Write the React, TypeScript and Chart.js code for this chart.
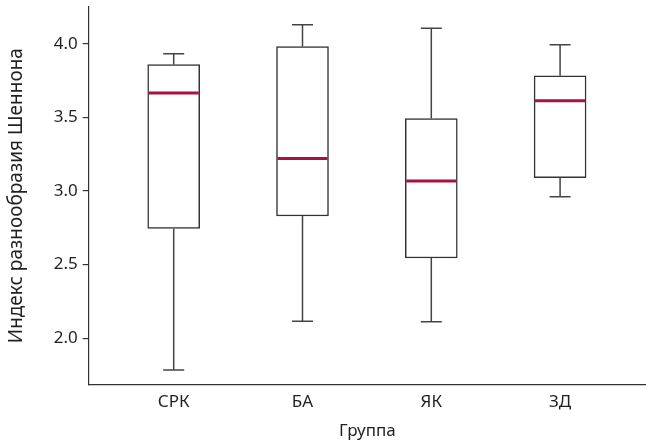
import React, { useEffect, useRef } from "react";
import { Chart, registerables } from "chart.js";

Chart.register(...registerables);

const groups = ["СРК", "БА", "ЯК", "ЗД"];
const whiskerLow = [1.785, 2.115, 2.113, 2.96];
const boxLow = [2.745, 2.83, 2.545, 3.09];
const medians = [3.665, 3.22, 3.068, 3.612];
const boxHigh = [3.858, 3.98, 3.492, 3.782];
const whiskerHigh = [3.932, 4.128, 4.105, 3.993];
const yTicks = [2.0, 2.5, 3.0, 3.5, 4.0];

const FONT = "'Noto Sans', sans-serif";
const TEXT = "#231f20";

const boxPlotPlugin = {
  id: "boxWhiskers",
  afterDatasetsDraw(chart: any) {
    const { ctx, scales } = chart;
    const xs = scales.x;
    const ys = scales.y;
    ctx.save();
    groups.forEach((_, i) => {
      const x = xs.getPixelForValue(i);
      const cap = 10.5;
      ctx.strokeStyle = "#444";
      ctx.lineWidth = 1.5;
      ctx.beginPath();
      ctx.moveTo(x, ys.getPixelForValue(boxHigh[i]));
      ctx.lineTo(x, ys.getPixelForValue(whiskerHigh[i]));
      ctx.moveTo(x - cap, ys.getPixelForValue(whiskerHigh[i]));
      ctx.lineTo(x + cap, ys.getPixelForValue(whiskerHigh[i]));
      ctx.moveTo(x, ys.getPixelForValue(boxLow[i]));
      ctx.lineTo(x, ys.getPixelForValue(whiskerLow[i]));
      ctx.moveTo(x - cap, ys.getPixelForValue(whiskerLow[i]));
      ctx.lineTo(x + cap, ys.getPixelForValue(whiskerLow[i]));
      ctx.stroke();
      ctx.strokeStyle = "#a8123e";
      ctx.lineWidth = 3;
      ctx.beginPath();
      const m = ys.getPixelForValue(medians[i]);
      ctx.moveTo(x - 25, m);
      ctx.lineTo(x + 25, m);
      ctx.stroke();
    });
    ctx.restore();
  },
};

export default function App() {
  const ref = useRef<HTMLCanvasElement>(null);
  useEffect(() => {
    if (!ref.current) return;
    const chart = new Chart(ref.current, {
      type: "bar",
      data: {
        datasets: [
          {
            data: groups.map((_, i) => ({ x: i, y: [boxLow[i], boxHigh[i]] })) as any,
            backgroundColor: "#ffffff",
            borderColor: "#333333",
            borderWidth: 1.5,
            borderSkipped: false,
            barThickness: 52,
          },
        ],
      },
      options: {
        responsive: false,
        animation: false,
        devicePixelRatio: 1,
        layout: { padding: { top: 7, left: 0, right: 0, bottom: 1 } },
        plugins: { legend: { display: false }, tooltip: { enabled: false } },
        scales: {
          x: {
            type: "linear",
            offset: false,
            min: -0.66,
            max: 3.667,
            grid: { display: false, drawTicks: false },
            border: { display: true, color: "#333", width: 1.2 },
            afterBuildTicks: (s: any) => {
              s.ticks = groups.map((_, i) => ({ value: i }));
            },
            afterFit: (s: any) => {
              s.height = 56.7;
              s.paddingLeft = 0;
              s.paddingRight = 0;
            },
            ticks: {
              padding: 8,
              color: TEXT,
              font: { family: FONT, size: 17 },
              callback: (v: any) => groups[Math.round(Number(v))] ?? "",
            },
            title: {
              display: true,
              text: "Группа",
              color: TEXT,
              font: { family: FONT, size: 17 },
              padding: { top: 8, bottom: 0 },
            },
          },
          y: {
            type: "linear",
            min: 1.6875,
            max: 4.249,
            afterBuildTicks: (s: any) => {
              s.ticks = yTicks.map((v) => ({ value: v }));
            },
            afterFit: (s: any) => {
              s.width = 88.7;
              s.paddingTop = 0;
              s.paddingBottom = 0;
            },
            grid: { drawOnChartArea: false, drawTicks: true, tickLength: 6, color: "#333", lineWidth: 1.2 },
            border: { display: true, color: "#333", width: 1.2 },
            ticks: {
              padding: 5,
              color: TEXT,
              font: { family: FONT, size: 17 },
              callback: (v: any) => Number(v).toFixed(1),
            },
            title: {
              display: true,
              text: "Индекс разнообразия Шеннона",
              color: TEXT,
              font: { family: FONT, size: 19 },
              padding: { top: 5.5, bottom: 0 },
            },
          },
        },
      },
      plugins: [boxPlotPlugin],
    });
    return () => chart.destroy();
  }, []);
  return (
    <div style={{ position: "fixed", left: 0, top: 0, width: 646, height: 442, background: "#fff" }}>
      <canvas ref={ref} width={646} height={442} />
    </div>
  );
}
